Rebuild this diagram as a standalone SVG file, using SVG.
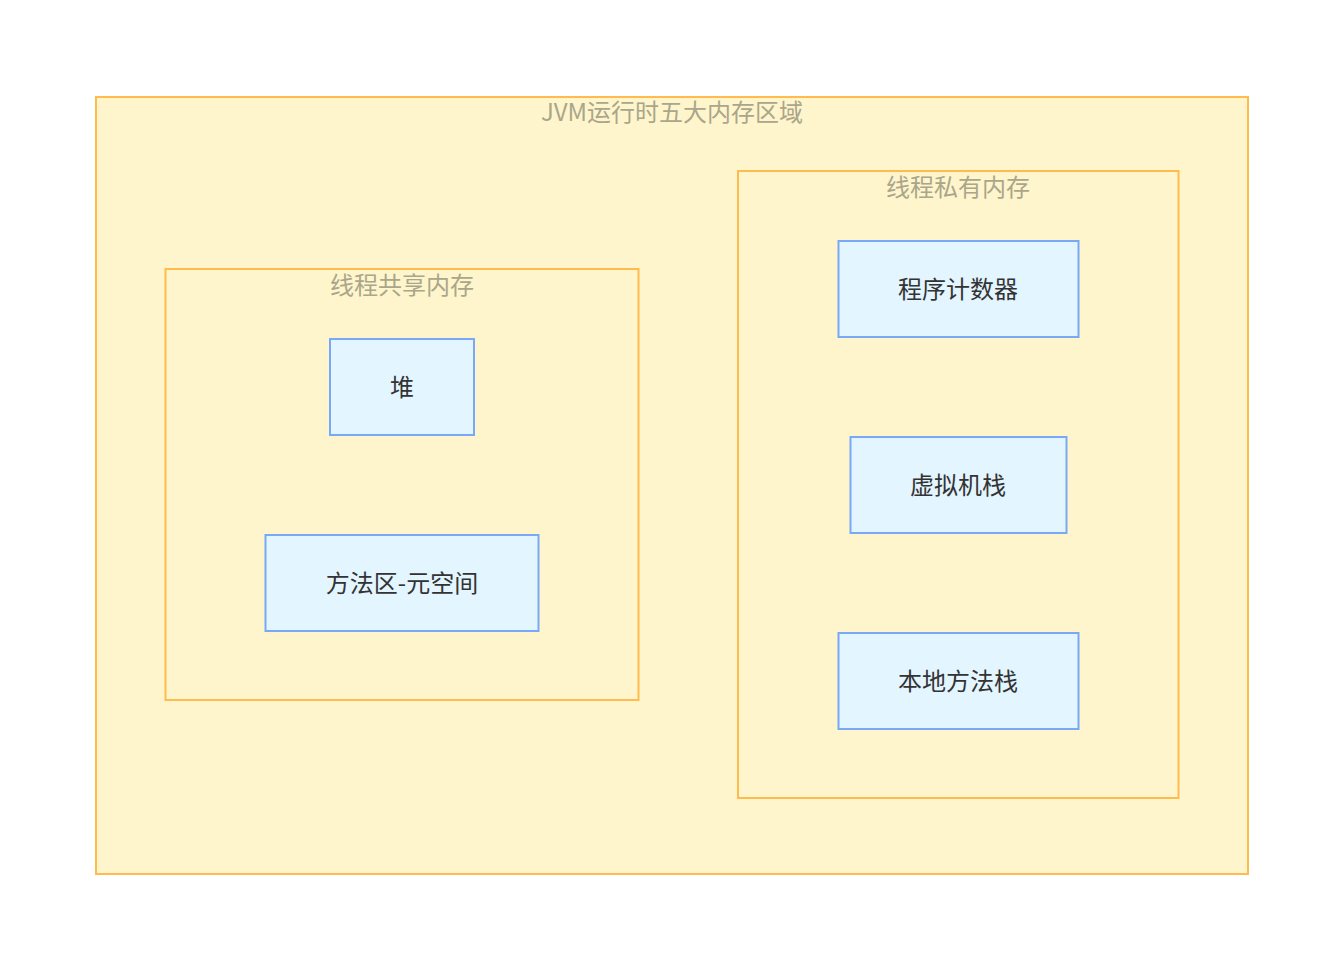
<svg xmlns="http://www.w3.org/2000/svg" width="1344" height="970" viewBox="0 0 1344 970">
<style>
.cluster{fill:#fff5cc;stroke:#ffbb4d;stroke-width:2}
.clabel{font-family:"Noto Sans CJK SC","Noto Sans",sans-serif;font-size:24px;fill:#aaa68a;text-anchor:middle}
.node{fill:#e3f5ff;stroke:#7aa8f8;stroke-width:2}
.nlabel{font-family:"Noto Sans CJK SC","Noto Sans",sans-serif;font-size:24px;fill:#333333;text-anchor:middle;dominant-baseline:central}
</style>
<rect width="1344" height="970" fill="#ffffff"/>
<g id="jvm">
<rect class="cluster" x="96" y="97" width="1152" height="777"/>
<text class="clabel" x="672" y="121">JVM运行时五大内存区域</text>
</g>
<g id="shared">
<rect class="cluster" x="165.5" y="269" width="473" height="431"/>
<text class="clabel" x="402" y="294">线程共享内存</text>
</g>
<g id="private">
<rect class="cluster" x="738" y="171" width="440.5" height="627"/>
<text class="clabel" x="958" y="196">线程私有内存</text>
</g>
<g id="heap">
<rect class="node" x="330" y="339" width="144" height="96"/>
<text class="nlabel" x="402" y="385">堆</text>
</g>
<g id="metaspace">
<rect class="node" x="265.5" y="535" width="273" height="96"/>
<text class="nlabel" x="402" y="581">方法区-元空间</text>
</g>
<g id="pc">
<rect class="node" x="838.5" y="241" width="240" height="96"/>
<text class="nlabel" x="958" y="287">程序计数器</text>
</g>
<g id="vmstack">
<rect class="node" x="850.5" y="437" width="216" height="96"/>
<text class="nlabel" x="958" y="483">虚拟机栈</text>
</g>
<g id="nativestack">
<rect class="node" x="838.5" y="633" width="240" height="96"/>
<text class="nlabel" x="958" y="679">本地方法栈</text>
</g>
<g id="connectors"></g>
</svg>
